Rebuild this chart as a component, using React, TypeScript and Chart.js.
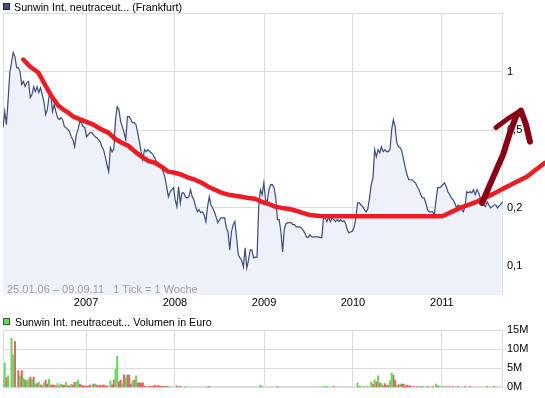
import React, { useEffect, useRef } from "react";
import { Chart, registerables } from "chart.js";

Chart.register(...registerables);

// ---------- data ----------
const START_DATE = Date.UTC(2006, 0, 25); // 25.01.06
const WEEK_MS = 7 * 86400000;
const weekOf = (y: number, m: number, d: number) => (Date.UTC(y, m - 1, d) - START_DATE) / WEEK_MS;
const X_MAX = weekOf(2011, 9, 9); // 09.09.11

const yearTicks = [2007, 2008, 2009, 2010, 2011];
const priceTickValues = [0.1, 0.2, 0.5, 1];
const priceTickLabels = ["0,1", "0,2", "0,5", "1"];
const volumeTickValues = [0, 5, 10, 15];
const volumeTickLabels = ["0M", "5M", "10M", "15M"];

// weekly closing prices (EUR), one per week from 25.01.06
const priceValues = [
  0.516, 0.624, 0.534, 0.719, 0.992, 1.117, 1.258, 1.199, 1.052, 1.052,
  1.0, 0.86, 0.891, 0.839, 0.881, 0.891, 0.737, 0.763, 0.839, 0.791,
  0.839, 0.782, 0.83, 0.763, 0.703, 0.602, 0.639, 0.746, 0.782, 0.624,
  0.678, 0.624, 0.581, 0.567, 0.581, 0.567, 0.522, 0.516, 0.504, 0.492,
  0.463, 0.447, 0.411, 0.475, 0.504, 0.554, 0.547, 0.522, 0.516, 0.463,
  0.475, 0.486, 0.486, 0.475, 0.463, 0.458, 0.447, 0.437, 0.411, 0.397,
  0.365, 0.332, 0.306, 0.407, 0.388, 0.4, 0.567, 0.662, 0.639, 0.554,
  0.522, 0.486, 0.447, 0.588, 0.588, 0.567, 0.547, 0.547, 0.534, 0.486,
  0.437, 0.388, 0.352, 0.397, 0.388, 0.397, 0.388, 0.383, 0.374, 0.361,
  0.344, 0.34, 0.332, 0.32, 0.306, 0.285, 0.256, 0.227, 0.241, 0.247,
  0.253, 0.219, 0.202, 0.256, 0.211, 0.238, 0.238, 0.227, 0.224, 0.227,
  0.247, 0.227, 0.219, 0.202, 0.19, 0.195, 0.188, 0.19, 0.183, 0.169,
  0.202, 0.227, 0.206, 0.199, 0.19, 0.179, 0.167, 0.173, 0.177, 0.177,
  0.177, 0.157, 0.15, 0.121, 0.15, 0.163, 0.169, 0.14, 0.114, 0.11,
  0.107, 0.0988, 0.124, 0.0976, 0.107, 0.121, 0.121, 0.11, 0.111, 0.111,
  0.202, 0.247, 0.233, 0.268, 0.22, 0.214, 0.247, 0.262, 0.262, 0.253,
  0.224, 0.173, 0.173, 0.15, 0.118, 0.155, 0.165, 0.167, 0.167, 0.167,
  0.163, 0.163, 0.159, 0.159, 0.159, 0.157, 0.153, 0.148, 0.141, 0.14,
  0.145, 0.141, 0.141, 0.141, 0.141, 0.141, 0.14, 0.14, 0.177, 0.177,
  0.169, 0.179, 0.169, 0.177, 0.173, 0.169, 0.173, 0.169, 0.173, 0.169,
  0.171, 0.165, 0.153, 0.148, 0.15, 0.151, 0.159, 0.177, 0.211, 0.211,
  0.206, 0.202, 0.195, 0.19, 0.197, 0.224, 0.262, 0.285, 0.397, 0.365,
  0.397, 0.383, 0.411, 0.388, 0.397, 0.388, 0.388, 0.397, 0.504, 0.567,
  0.522, 0.431, 0.411, 0.407, 0.388, 0.352, 0.32, 0.295, 0.278, 0.278,
  0.278, 0.271, 0.268, 0.256, 0.247, 0.233, 0.224, 0.224, 0.211, 0.195,
  0.19, 0.19, 0.19, 0.183, 0.219, 0.253, 0.253, 0.256, 0.262, 0.268,
  0.256, 0.241, 0.233, 0.224, 0.219, 0.211, 0.199, 0.206, 0.202, 0.195,
  0.19, 0.202, 0.241, 0.238, 0.241, 0.238, 0.247, 0.233, 0.247, 0.238,
  0.224, 0.214, 0.206, 0.202, 0.214, 0.206, 0.199, 0.202, 0.206, 0.206,
  0.199, 0.204, 0.208, 0.214,
];

// hand-drawn red trend line (week, price)
const trendWeeks = [
  11.9, 15.8, 20.7, 24.6, 28.6, 32.4, 35.4, 38.3, 41.2, 47.1, 53.0, 57.9, 61.8, 65.7,
  69.6, 73.5, 77.4, 81.4, 85.2, 89.2, 93.1, 96.9, 100.9, 104.8, 108.7, 112.6, 116.5,
  120.4, 124.3, 128.3, 132.2, 136.1, 140.0, 143.9, 147.8, 151.7, 155.6, 159.5, 163.5,
  167.3, 171.3, 175.2, 180.1, 185.9, 193.6, 221.1, 257.3, 259.3, 268.1, 277.8, 287.6,
  294.4, 307.2, 317.9,
];
const trendValues = [
  1.157, 1.065, 0.992, 0.86, 0.746, 0.67, 0.639, 0.616, 0.588, 0.56, 0.534, 0.504, 0.486, 0.452,
  0.431, 0.416, 0.388, 0.365, 0.348, 0.34, 0.324, 0.306, 0.302, 0.295, 0.285, 0.278, 0.268,
  0.256, 0.247, 0.238, 0.233, 0.23, 0.227, 0.224, 0.222, 0.214, 0.209, 0.202, 0.199,
  0.197, 0.193, 0.188, 0.183, 0.181, 0.18, 0.18, 0.18, 0.183, 0.199, 0.214, 0.235,
  0.253, 0.288, 0.34,
];

// hand-drawn dark red arrow (week, price)
const arrowShaftWeeks = [281.0, 287.4, 293.3, 297.4, 300.9, 303.8, 306.8, 309.1];
const arrowShaftValues = [0.211, 0.285, 0.374, 0.486, 0.588, 0.631, 0.534, 0.437];
const arrowWingWeeks = [289.2, 296.2, 303.8];
const arrowWingValues = [0.516, 0.574, 0.631];

// weekly volume in million EUR: [week, volume]
const volumeUp = [
  [1, 6.4], [3, 3.1], [5, 12.9], [6, 8.5], [10, 3.0], [12, 2.5], [14, 1.7], [15, 2.1], [17, 2.1],
  [19, 0.85], [21, 1.3], [24, 1.1], [27, 2.1], [32, 1.0], [34, 0.85], [37, 1.3], [40, 0.85],
  [43, 1.3], [44, 1.9], [52, 0.4], [54, 0.85], [63, 1.7], [66, 4.7], [67, 8.1], [70, 1.0],
  [72, 2.5], [76, 1.7], [78, 3.0], [84, 0.2], [95, 0.35], [97, 0.25], [103, 0.2], [107, 0.2],
  [120, 0.2], [151, 0.6], [152, 0.2], [188, 0.2], [189, 0.2], [190, 0.2], [208, 1.1], [210, 0.2],
  [214, 0.35], [216, 1.3], [218, 1.9], [220, 3.0], [222, 1.0], [227, 1.7], [228, 3.8], [231, 0.6],
  [233, 0.85], [245, 0.25], [254, 0.85], [256, 0.2], [258, 0.25], [284, 0.35],
];
const volumeDown = [
  [2, 2.5], [7, 12.0], [9, 4.4], [11, 4.4], [13, 1.9], [16, 2.7], [18, 2.7], [20, 1.0], [22, 0.7],
  [23, 0.4], [25, 1.9], [26, 0.85], [28, 0.6], [29, 0.6], [30, 0.6], [31, 0.35], [33, 0.4],
  [35, 0.6], [36, 0.6], [38, 0.4], [39, 0.4], [41, 0.6], [42, 1.3], [45, 0.85], [46, 0.6],
  [47, 0.4], [48, 0.35], [49, 0.35], [50, 0.35], [51, 0.6], [53, 0.85], [55, 0.6], [56, 0.4],
  [57, 0.6], [58, 0.4], [59, 0.7], [60, 0.4], [61, 0.4], [64, 0.7], [65, 1.95], [68, 1.45],
  [69, 1.9], [71, 3.2], [73, 3.2], [74, 3.2], [75, 0.85], [77, 1.9], [79, 1.2], [80, 1.2],
  [81, 1.1], [82, 1.2], [83, 0.4], [85, 0.2], [86, 0.25], [87, 0.25], [88, 0.25], [89, 0.6],
  [90, 0.25], [91, 0.5], [92, 0.25], [93, 0.25], [94, 0.25], [96, 0.35], [102, 0.35], [104, 0.25],
  [121, 0.2], [161, 0.2], [194, 0.2], [209, 0.2], [212, 0.2], [217, 0.85], [219, 1.5], [221, 1.2],
  [223, 0.4], [224, 1.0], [225, 0.4], [226, 0.6], [229, 3.2], [230, 1.9], [232, 0.7], [234, 0.85],
  [235, 0.85], [236, 0.35], [237, 0.6], [238, 0.35], [239, 0.4], [241, 0.2], [243, 0.2], [246, 0.2],
  [249, 0.2], [252, 0.2], [255, 0.4], [260, 0.2], [262, 0.2], [264, 0.2], [267, 0.2], [271, 0.2],
  [274, 0.2], [288, 0.2],
];
const volumeFlat = [[0, 2.1]];

// ---------- styles ----------
const FONT = "'Liberation Sans', Arial, sans-serif";
const GRID = "#dcdcdc";
const PRICE_LINE = "#3a4c7c";
const PRICE_FILL = "#eef1fa";
const W = 545;
const H = 398;

const framePlugin = {
  id: "frame",
  beforeDatasetsDraw(chart: any) {
    const { ctx, chartArea } = chart;
    const { left, top, right, bottom } = chartArea;
    ctx.save();
    ctx.strokeStyle = GRID;
    ctx.lineWidth = 1;
    ctx.strokeRect(Math.round(left) + 0.5, Math.round(top) + 0.5, Math.round(right - left) - 1, Math.round(bottom - top) - 1);
    ctx.restore();
  },
};

const yearTickBuilder = (axis: any) => {
  axis.ticks = yearTicks.map((y) => ({ value: weekOf(y, 1, 1) }));
};
const yearLabel = (v: number) => {
  const i = yearTicks.findIndex((y) => Math.abs(weekOf(y, 1, 1) - v) < 0.01);
  return i >= 0 ? String(yearTicks[i]) : "";
};

const pts = (xs: number[], ys: number[]) => xs.map((x, i) => ({ x, y: ys[i] }));
// drawn right-to-left so that the overlay strokes are not trimmed to the axis range
const overlayPts = (xs: number[], ys: number[]) => pts(xs, ys).reverse();
const pairPts = (arr: number[][]) => arr.map(([x, y]) => ({ x, y }));

export default function App() {
  const priceRef = useRef<HTMLCanvasElement>(null);
  const volRef = useRef<HTMLCanvasElement>(null);

  useEffect(() => {
    const tickFont = { family: FONT, size: 11 };
    const overlayCommon = {
      pointRadius: 0,
      fill: false,
      clip: false,
      tension: 0,
      borderCapStyle: "round",
      borderJoinStyle: "round",
    };
    const price = new Chart(priceRef.current!, {
      type: "line",
      data: {
        datasets: [
          {
            data: priceValues.map((v, i) => ({ x: i, y: v })),
            borderColor: PRICE_LINE,
            borderWidth: 1.2,
            backgroundColor: PRICE_FILL,
            fill: "start",
            pointRadius: 0,
            tension: 0,
            order: 4,
          },
          {
            data: overlayPts(trendWeeks, trendValues),
            borderColor: "#ed1c24",
            borderWidth: 4.5,
            order: 3,
            ...overlayCommon,
          },
          {
            data: overlayPts(arrowShaftWeeks, arrowShaftValues),
            borderColor: "#880015",
            borderWidth: 6,
            order: 2,
            ...overlayCommon,
          },
          {
            data: overlayPts(arrowWingWeeks, arrowWingValues),
            borderColor: "#880015",
            borderWidth: 5,
            order: 1,
            ...overlayCommon,
          },
        ],
      } as any,
      options: {
        animation: false,
        responsive: false,
        devicePixelRatio: 1,
        events: [],
        layout: { padding: { left: 3, top: 13, right: 0, bottom: 0 } },
        plugins: { legend: { display: false }, tooltip: { enabled: false } },
        scales: {
          x: {
            type: "linear",
            min: 0,
            max: X_MAX,
            bounds: "data",
            offset: false,
            grid: { color: GRID, drawTicks: false },
            border: { display: false },
            ticks: {
              padding: 1,
              font: tickFont,
              color: "#000",
              maxRotation: 0,
              autoSkip: false,
              callback: (v: any) => yearLabel(Number(v)),
            },
            afterBuildTicks: yearTickBuilder,
            afterFit: (axis: any) => {
              axis.height = H - 295;
            },
          },
          y: {
            type: "logarithmic",
            position: "right",
            min: 0.0708,
            max: 2.01,
            bounds: "data",
            grid: { color: GRID, drawTicks: false },
            border: { display: false },
            ticks: {
              padding: 4,
              font: tickFont,
              color: "#000",
              callback: (v: any) => {
                const i = priceTickValues.findIndex((t) => Math.abs(t - Number(v)) < 1e-6);
                return i >= 0 ? priceTickLabels[i] : "";
              },
            },
            afterBuildTicks: (axis: any) => {
              axis.ticks = priceTickValues.map((v) => ({ value: v }));
            },
            afterFit: (axis: any) => {
              axis.width = 42;
            },
          },
        },
      } as any,
      plugins: [framePlugin],
    });

    const barCommon = { barThickness: 1.4, grouped: false, borderWidth: 0 };
    const vol = new Chart(volRef.current!, {
      type: "bar",
      data: {
        datasets: [
          { data: pairPts(volumeUp), backgroundColor: "#6ad860", ...barCommon },
          { data: pairPts(volumeDown), backgroundColor: "#e06464", ...barCommon },
          { data: pairPts(volumeFlat), backgroundColor: "#b4b4b4", ...barCommon },
        ],
      } as any,
      options: {
        animation: false,
        responsive: false,
        devicePixelRatio: 1,
        events: [],
        layout: { padding: { left: 3, top: 330, right: 0, bottom: 0 } },
        plugins: { legend: { display: false }, tooltip: { enabled: false } },
        scales: {
          x: {
            type: "linear",
            min: 0,
            max: X_MAX,
            bounds: "data",
            offset: false,
            grid: { color: GRID, drawTicks: false, offset: false },
            border: { display: false },
            ticks: { display: false },
            afterBuildTicks: yearTickBuilder,
            afterFit: (axis: any) => {
              axis.height = 6;
            },
          },
          y: {
            type: "linear",
            position: "right",
            min: 0,
            max: 15,
            bounds: "data",
            grid: { color: GRID, drawTicks: false },
            border: { display: false },
            ticks: {
              padding: 4,
              font: tickFont,
              color: "#000",
              callback: (v: any) => {
                const i = volumeTickValues.indexOf(Number(v));
                return i >= 0 ? volumeTickLabels[i] : "";
              },
            },
            afterBuildTicks: (axis: any) => {
              axis.ticks = volumeTickValues.map((v) => ({ value: v }));
            },
            afterFit: (axis: any) => {
              axis.width = 42;
            },
          },
        },
      } as any,
      plugins: [framePlugin],
    });

    return () => {
      price.destroy();
      vol.destroy();
    };
  }, []);

  const textBase: React.CSSProperties = {
    position: "absolute",
    fontFamily: FONT,
    whiteSpace: "pre",
    lineHeight: "12px",
  };

  return (
    <div style={{ position: "absolute", left: 0, top: 0, width: W, height: H, background: "#fff", overflow: "hidden" }}>
      <canvas ref={priceRef} width={W} height={H} style={{ position: "absolute", left: 0, top: 0 }} />
      <canvas ref={volRef} width={W} height={H} style={{ position: "absolute", left: 0, top: 0 }} />
      <div style={{ position: "absolute", left: 3, top: 3, width: 5, height: 5, background: "#3d5089", border: "1px solid #1c2444" }} />
      <div style={{ ...textBase, left: 14, top: 1, fontSize: 10.7, color: "#000" }}>Sunwin Int. neutraceut... (Frankfurt)</div>
      <div style={{ position: "absolute", left: 3, top: 318, width: 5, height: 5, background: "#6ad860", border: "1px solid #2c5a28" }} />
      <div style={{ ...textBase, left: 15, top: 316, fontSize: 10.7, color: "#000" }}>Sunwin Int. neutraceut... Volumen in Euro</div>
      <div style={{ ...textBase, left: 7, top: 283, fontSize: 11, color: "#a0a0a0" }}>25.01.06 – 09.09.11   1 Tick = 1 Woche</div>
    </div>
  );
}
